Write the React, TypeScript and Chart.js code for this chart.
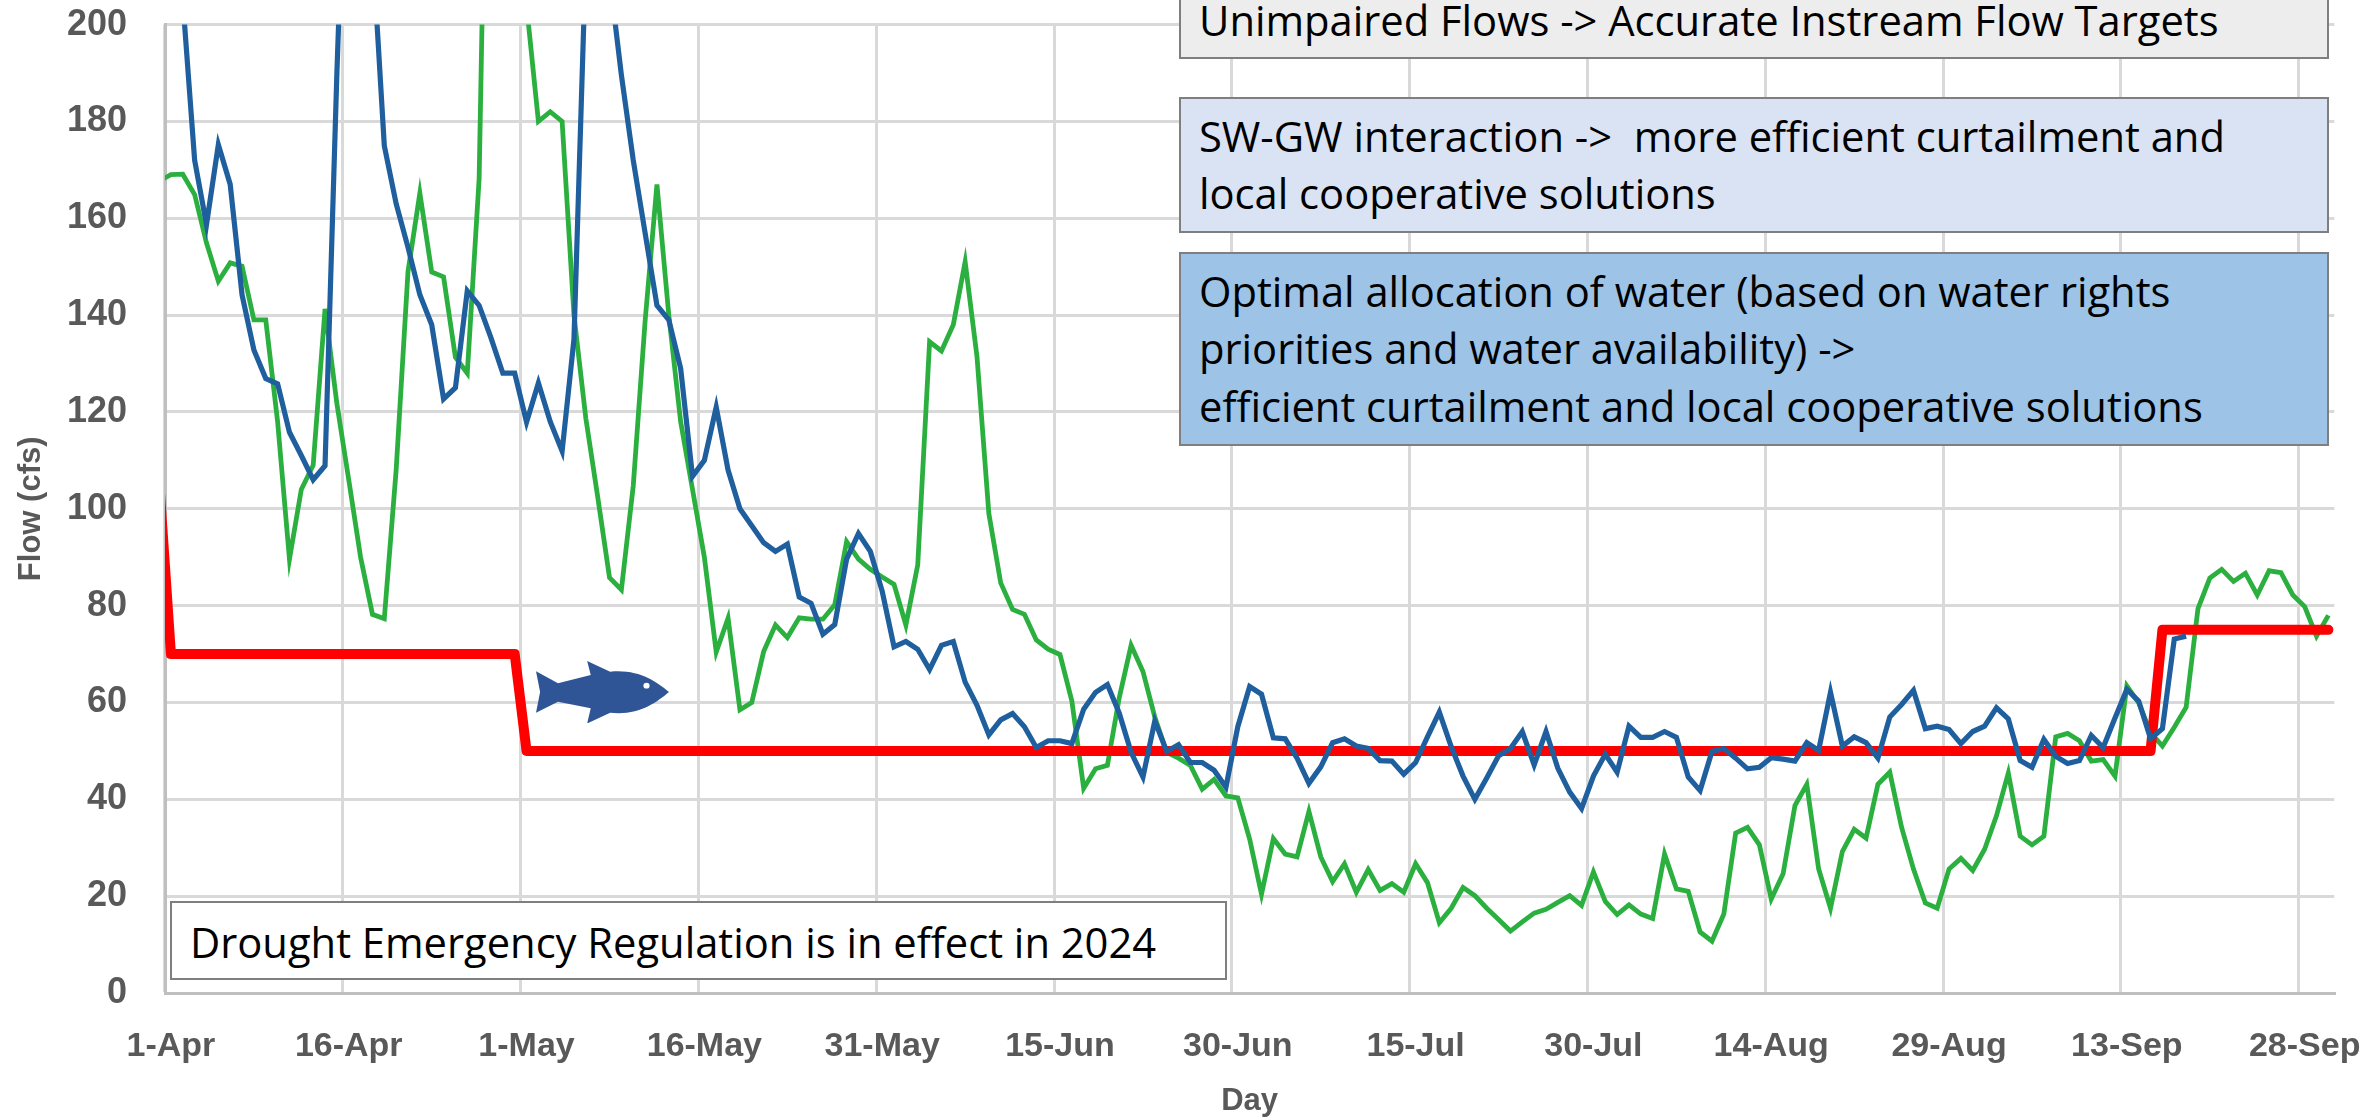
import React, { useEffect, useRef } from "react";
import { Chart, registerables } from "chart.js";

Chart.register(...registerables);

// First entry of each series is the day before the axis starts; it is clipped by the plot edge.
const monthNames = ["Mar", "Apr", "May", "Jun", "Jul", "Aug", "Sep"];
const monthDays = [1, 30, 31, 30, 31, 31, 30];
const monthStart = [31, 1, 1, 1, 1, 1, 1];
const days: string[] = [];
monthNames.forEach((m, mi) => {
  for (let d = 0; d < monthDays[mi]; d++) days.push(`${monthStart[mi] + d}-${m}`);
});

const tickLabels = ["1-Apr", "16-Apr", "1-May", "16-May", "31-May", "15-Jun", "30-Jun", "15-Jul", "30-Jul", "14-Aug", "29-Aug", "13-Sep", "28-Sep"];

const regulation = [
  106, 70, 70, 70, 70, 70, 70, 70, 70, 70,
  70, 70, 70, 70, 70, 70, 70, 70, 70, 70,
  70, 70, 70, 70, 70, 70, 70, 70, 70, 70,
  70, 50, 50, 50, 50, 50, 50, 50, 50, 50,
  50, 50, 50, 50, 50, 50, 50, 50, 50, 50,
  50, 50, 50, 50, 50, 50, 50, 50, 50, 50,
  50, 50, 50, 50, 50, 50, 50, 50, 50, 50,
  50, 50, 50, 50, 50, 50, 50, 50, 50, 50,
  50, 50, 50, 50, 50, 50, 50, 50, 50, 50,
  50, 50, 50, 50, 50, 50, 50, 50, 50, 50,
  50, 50, 50, 50, 50, 50, 50, 50, 50, 50,
  50, 50, 50, 50, 50, 50, 50, 50, 50, 50,
  50, 50, 50, 50, 50, 50, 50, 50, 50, 50,
  50, 50, 50, 50, 50, 50, 50, 50, 50, 50,
  50, 50, 50, 50, 50, 50, 50, 50, 50, 50,
  50, 50, 50, 50, 50, 50, 50, 50, 50, 50,
  50, 50, 50, 50, 50, 50, 50, 50, 50, 75,
  75, 75, 75, 75, 75, 75, 75, 75, 75, 75,
  75, 75, 75, 75,
];

const blueFlow: (number | null)[] = [
  280, 240,
  205, 172, 158.7, 175.2, 167, 144.2, 132.8, 126.9, 125.8,
  115.8, 111, 106, 108.9, 190, 260, 250, 216, 175, 163,
  154, 144.2, 138, 122.7, 125, 145, 142, 135.3, 128, 128,
  117.9, 126, 118, 111.9, 135, 214, 240, 210, 189.6, 172,
  157, 142, 139, 129, 106.7, 110, 121, 108, 100, 96.5,
  93, 91.2, 92.7, 81.8, 80.5, 74.1, 76.1, 89.6, 94.9, 91.2,
  83, 71.5, 72.6, 71, 66.8, 71.8, 72.6, 64.2, 59.4, 53.3,
  56.4, 57.7, 55, 50.7, 52.1, 52.1, 51.5, 58.6, 62.1, 63.7,
  57.8, 49.7, 44.6, 56.2, 49.9, 51.3, 47.6, 47.6, 46, 42.5,
  55, 63.3, 61.7, 52.7, 52.5, 48.5, 43.3, 46.7, 51.7, 52.5,
  51, 50.5, 48, 47.9, 45.2, 47.6, 52.9, 58, 50.9, 44.8,
  40, 44.4, 49, 50.5, 54, 47.1, 54, 46.4, 41.5, 38.1,
  44.8, 49.3, 45.6, 55.1, 52.8, 52.8, 54, 52.8, 44.6, 41.8,
  49.9, 50.5, 48.5, 46.3, 46.6, 48.6, 48.3, 47.9, 51.7, 50.1,
  62.1, 51, 52.9, 51.7, 48.5, 57, 59.6, 62.5, 54.6, 55.1,
  54.4, 51.5, 54, 55.1, 58.9, 56.6, 48, 46.6, 52.4, 48.9,
  47.4, 48, 53.2, 50.7, 56.8, 62.7, 60.3, 52.5, 54.6, 73.1,
  73.7,
];

const greenFlow = [
  167.7, 169,
  169.1, 164.9, 154.9, 147, 150.8, 150.1, 139, 139, 118,
  89.6, 104, 109, 141.3, 121.7, 106, 90, 78.2, 77.3, 108,
  149, 165.2, 148.9, 147.9, 131.3, 128, 168.2, 300, 320, 280,
  204, 180, 182, 180, 140, 118.7, 102.5, 85.8, 83.3, 104.7,
  138.7, 167, 140, 118, 104, 90, 70.4, 77.4, 58.5, 60,
  70.5, 76, 73.4, 77.5, 77.2, 77.2, 80.2, 93.2, 89.6, 87.5,
  85.9, 84.4, 76, 88.4, 134.5, 132.6, 138, 151, 131.4, 99,
  84.7, 79.2, 78.2, 72.9, 71, 69.9, 60.3, 42.3, 46.3, 47,
  61, 71.8, 66.4, 57, 49.7, 48.5, 47, 42.1, 44.1, 40.7,
  40.3, 31.8, 20.4, 31.9, 28.7, 28.1, 37.5, 28.1, 23, 26.7,
  20.8, 25.5, 21.2, 22.6, 20.8, 26.7, 22.8, 14.5, 17.5, 21.8,
  20.1, 17.5, 15.2, 12.8, 14.7, 16.5, 17.3, 18.7, 20.1, 18.1,
  25, 18.9, 16.2, 18.2, 16.3, 15.4, 28.7, 21.5, 21, 12.6,
  10.7, 16.3, 33, 34.2, 30.6, 19.4, 24.6, 38.7, 43.1, 25.6,
  17.5, 29.2, 33.8, 32, 43.1, 45.6, 34.2, 25.6, 18.6, 17.5,
  25.6, 27.8, 25.3, 29.7, 36.6, 45.4, 32.4, 30.6, 32.4, 52.9,
  53.6, 52.1, 47.9, 48.2, 44.8, 63.4, 59.9, 53.8, 51, 54.9,
  59, 79.4, 85.7, 87.5, 85, 86.7, 82.2, 87.2, 86.8, 82.2,
  79.8, 73.7, 78,
];

const boxFont = '"Open Sans", sans-serif';
const axisFont = '"Liberation Sans", sans-serif';

type BoxProps = { left: number; top: number; width: number; height: number; fill: string; lines: string[]; firstBaseline: number };

function TextBox({ left, top, width, height, fill, lines, firstBaseline }: BoxProps) {
  const lineHeight = 57.6;
  return (
    <div
      style={{
        position: "absolute",
        left,
        top,
        width,
        height,
        boxSizing: "border-box",
        background: fill,
        border: "2px solid #7F7F7F",
        overflow: "hidden",
      }}
    >
      {lines.map((line, i) => (
        <div
          key={i}
          style={{
            position: "absolute",
            left: 18,
            top: firstBaseline - top - 2 - 43.5 + i * lineHeight,
            lineHeight: "56px",
            whiteSpace: "pre",
            fontFamily: boxFont,
            fontSize: 41.7,
            color: "#000",
          }}
        >
          {line}
        </div>
      ))}
    </div>
  );
}

export default function App() {
  const ref = useRef<HTMLCanvasElement | null>(null);

  useEffect(() => {
    if (!ref.current) return;
    const chart = new Chart(ref.current, {
      type: "line",
      data: {
        labels: days,
        datasets: [
          { label: "Blue", data: blueFlow, borderColor: "#1F5F9E", borderWidth: 5.2, pointRadius: 0, clip: 0, spanGaps: false },
          { label: "Regulation", data: regulation, borderColor: "#FF0000", borderWidth: 10, pointRadius: 0, clip: 0, borderJoinStyle: "round", borderCapStyle: "round" },
          { label: "Green", data: greenFlow, borderColor: "#2BB040", borderWidth: 4.8, pointRadius: 0, clip: 0 },
        ],
      } as any,
      options: {
        responsive: false,
        animation: false,
        maintainAspectRatio: false,
        layout: { padding: { left: 0, top: 24.6, right: 37.7, bottom: 0 } },
        plugins: { legend: { display: false }, tooltip: { enabled: false } },
        scales: {
          x: {
            type: "category",
            min: "1-Apr",
            max: "30-Sep",
            offset: true,
            afterFit: (s: any) => { s.height = 125; s.paddingLeft = 0; s.paddingRight = 0; },
            grid: {
              offset: true,
              drawTicks: false,
              lineWidth: 3,
              color: (c: any) => (c.index % 15 === 0 ? "#D9D9D9" : "rgba(0,0,0,0)"),
            },
            border: { color: "#BFBFBF", width: 3 },
            ticks: {
              autoSkip: false,
              maxRotation: 0,
              minRotation: 0,
              padding: 33,
              color: "#595959",
              font: { family: axisFont, size: 34, weight: "bold" },
              callback: function (this: any, v: any) {
                const l = this.getLabelForValue(v);
                return tickLabels.includes(l) ? l : "";
              },
            },
            title: { display: true, text: "Day", color: "#595959", font: { family: axisFont, size: 31, weight: "bold" }, padding: { top: 0, bottom: -2 } },
          },
          y: {
            min: 0,
            max: 200,
            afterFit: (s: any) => { s.width = 165; s.paddingTop = 0; s.paddingBottom = 0; },
            grid: {
              drawTicks: false,
              lineWidth: 3,
              color: (c: any) => (c.tick && c.tick.value === 0 ? "#BFBFBF" : "#D9D9D9"),
            },
            border: { color: "#BFBFBF", width: 3 },
            ticks: {
              stepSize: 20,
              padding: 38,
              color: "#595959",
              font: { family: axisFont, size: 36, weight: "bold" },
            },
            title: { display: true, text: "Flow (cfs)", color: "#595959", font: { family: axisFont, size: 31, weight: "bold" }, padding: { top: 13, bottom: 0 } },
          },
        },
      },
    } as any);
    return () => chart.destroy();
  }, []);

  return (
    <div style={{ position: "fixed", left: 0, top: 0, width: 2372, height: 1118, overflow: "hidden", background: "#fff" }}>
      <canvas ref={ref} width={2372} height={1118} style={{ display: "block" }} />
      <svg
        style={{ position: "absolute", left: 536, top: 660.7, width: 133, height: 62.5 }}
        viewBox="1050 283 260 175"
        preserveAspectRatio="none"
      >
        <path
          d="M1050 312 L1093 345 L1157 322 L1150 283 L1195 313 C1250 305 1285 340 1310 370 C1285 400 1250 437 1195 428 L1150 458 L1157 415 L1093 397 L1050 428 L1058 370 Z"
          fill="#2F5597"
        />
        <ellipse cx="1266" cy="352" rx="6" ry="8" fill="#fff" />
      </svg>
      <TextBox left={1179} top={-3} width={1150} height={62} fill="#EDEDED" firstBaseline={35} lines={["Unimpaired Flows -> Accurate Instream Flow Targets"]} />
      <TextBox left={1179} top={97} width={1150} height={136} fill="#DAE3F3" firstBaseline={151} lines={["SW-GW interaction ->  more efficient curtailment and", "local cooperative solutions"]} />
      <TextBox left={1179} top={252} width={1150} height={194} fill="#9DC3E6" firstBaseline={306} lines={["Optimal allocation of water (based on water rights", "priorities and water availability) ->", "efficient curtailment and local cooperative solutions"]} />
      <TextBox left={170} top={901} width={1057} height={79} fill="#FFFFFF" firstBaseline={957} lines={["Drought Emergency Regulation is in effect in 2024"]} />
    </div>
  );
}
